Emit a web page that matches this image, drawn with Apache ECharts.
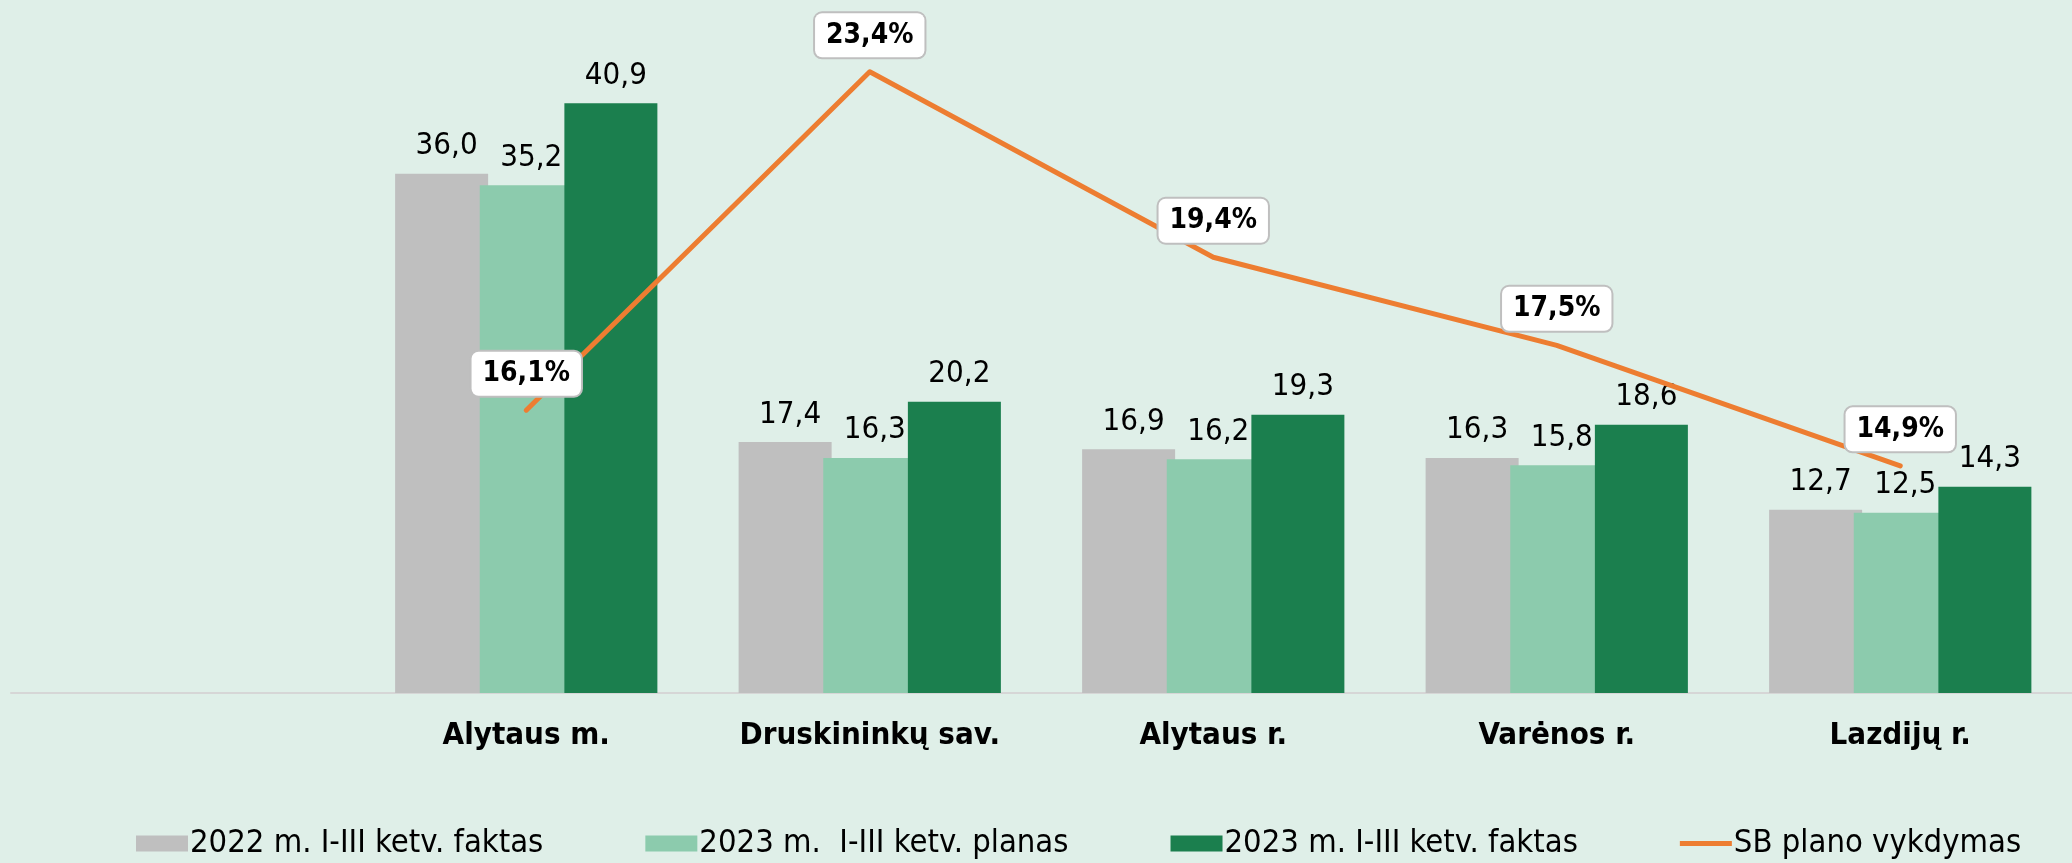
<!DOCTYPE html>
<html>
<head>
<meta charset="utf-8">
<script src="https://cdn.jsdelivr.net/npm/echarts@6/dist/echarts.min.js"></script>
<style>
  html, body { margin: 0; padding: 0; background: #dfefe8; }
  #main { width: 2072px; height: 863px; }
</style>
</head>
<body>
<div id="main"></div>
<script>
// categories (first one is an empty slot, as in the source chart)
const categories = ['', 'Alytaus m.', 'Druskininkų sav.', 'Alytaus r.', 'Varėnos r.', 'Lazdijų r.'];
const seriesNames = ['2022 m. I-III ketv. faktas', '2023 m.  I-III ketv. planas', '2023 m. I-III ketv. faktas', 'SB plano vykdymas'];
const fact2022 = ['-', 36.0, 17.4, 16.9, 16.3, 12.7];
const plan2023 = ['-', 35.2, 16.3, 16.2, 15.8, 12.5];
const fact2023 = ['-', 40.9, 20.2, 19.3, 18.6, 14.3];
const execution = ['-', 16.1, 23.4, 19.4, 17.5, 14.9];

const FONT = "'DejaVu Sans Condensed', 'Liberation Sans Narrow', 'DejaVu Sans', sans-serif";

// comma decimal
const fmt = v => v.toFixed(1).replace('.', ',');

const barLabel = {
  show: true,
  position: 'top',
  distance: 12,
  offset: [5, 0],
  color: '#000',
  fontFamily: FONT,
  fontSize: 31,
  formatter: p => fmt(p.value),
};

function barSeries(name, data, color) {
  return {
    name,
    type: 'bar',
    data,
    barWidth: 93,
    barGap: '-9%',
    itemStyle: { color },
    label: barLabel,
  };
}

const option = {
  backgroundColor: '#dfefe8',
  animation: false,
  grid: { left: 11, top: 44, width: 2076, height: 649, containLabel: false },
  legend: {
    left: 131,
    top: 822,
    itemWidth: 52,
    itemHeight: 16,
    itemGap: 102,
    textStyle: { color: '#000', fontFamily: FONT, fontSize: 32.5, padding: [0, 0, 0, -3] },
    data: [
      { name: seriesNames[0], icon: 'rect' },
      { name: seriesNames[1], icon: 'rect' },
      { name: seriesNames[2], icon: 'rect' },
      // flat orange stroke for the line series
      { name: seriesNames[3], icon: 'path://M0,0L52,0L52,5L0,5Z', itemStyle: { color: '#ed7d31' } },
    ],
  },
  xAxis: {
    type: 'category',
    data: categories,
    axisTick: { show: false },
    axisLine: { lineStyle: { color: '#d6d6d6', width: 2 } },
    axisLabel: {
      color: '#000',
      fontFamily: FONT,
      fontSize: 31,
      fontWeight: 'bold',
      margin: 27,
    },
  },
  yAxis: [
    { type: 'value', min: 0, max: 45, show: false, splitLine: { show: false } },
    { type: 'value', min: 10, max: 24, show: false, splitLine: { show: false } },
  ],
  series: [
    barSeries(seriesNames[0], fact2022, '#bfbfbf'),
    barSeries(seriesNames[1], plan2023, '#8ccbad'),
    barSeries(seriesNames[2], fact2023, '#1b7f4e'),
    {
      name: seriesNames[3],
      type: 'line',
      yAxisIndex: 1,
      data: execution,
      symbol: 'circle',
      symbolSize: 1,
      showSymbol: true,
      z: 5,
      lineStyle: { color: '#ed7d31', width: 5, cap: 'round', join: 'round' },
      itemStyle: { color: '#ed7d31' },
      label: {
        show: true,
        position: 'top',
        distance: 14,
        color: '#000',
        fontFamily: FONT,
        fontSize: 28,
        fontWeight: 'bold',
        backgroundColor: '#fff',
        borderColor: '#bfbfbf',
        borderWidth: 2,
        borderRadius: 7,
        padding: [8, 11],
        formatter: p => fmt(p.value) + '%',
      },
    },
  ],
};

const myChart = echarts.init(document.getElementById('main'));
myChart.setOption(option);
</script>
</body>
</html>
